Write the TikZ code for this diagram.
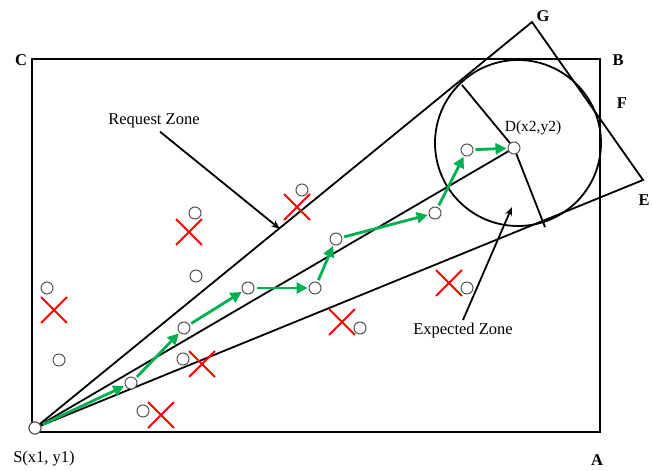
\documentclass[tikz,border=0pt]{standalone}
\usepackage{fontspec}
\setmainfont{Liberation Serif}
\usetikzlibrary{arrows.meta,shapes.misc}
\definecolor{verde}{RGB}{0,176,80}
\definecolor{gris}{RGB}{85,85,85}
\tikzset{
  >={Stealth[length=9pt,width=7pt]},
  linea/.style={line width=1.8pt},
  paso/.style={draw=verde, line width=2.8pt, shorten <=2pt, shorten >=1pt,
    -{Triangle[length=11pt,width=11pt]}},
  punto/.style={circle, draw=gris, fill=white, line width=1pt, minimum size=12pt, inner sep=0pt},
  cruz/.style={cross out, draw=red, line width=1.9pt, minimum size=24pt, inner sep=0pt},
  letra/.style={font=\bfseries\fontsize{16.5}{18}\selectfont},
  rotulo/.style={font=\fontsize{16.5}{18}\selectfont},
}

\begin{document}
\begin{tikzpicture}[x=1pt, y=-1pt]
  \useasboundingbox (0,0) rectangle (653,471);
  % area
  \draw[linea] (32,59) rectangle (600,432);
  \coordinate (G) at (532,22);
  \coordinate (E) at (643,180);
  \coordinate (r1) at (462,85);
  \coordinate (r2) at (545,227);
  \node[punto] (S) at (35,428) {};
  \node[punto] (D) at (514,148) {};
  \draw[linea] (S.center) -- (G) -- (E) -- (S.center);
  \draw[linea] (S.center) -- (D);
  \draw[linea] (518,143) circle (83);
  \draw[linea] (D) -- (r1);
  \draw[linea] (D) -- (r2);
  \node[punto] at (S) {};
  % path
  \node[punto] (n1) at (131,383) {};
  \node[punto] (n2) at (184,328) {};
  \node[punto] (n3) at (248,288) {};
  \node[punto] (n4) at (315,288) {};
  \node[punto] (n5) at (336,239) {};
  \node[punto] (n6) at (435,213) {};
  \node[punto] (n7) at (467,150) {};
  \draw[paso] (S) -- (n1);
  \draw[paso] (n1) -- (n2);
  \draw[paso] (n2) -- (n3);
  \draw[paso] (n3) -- (n4);
  \draw[paso] (n4) -- (n5);
  \draw[paso] (n5) -- (n6);
  \draw[paso] (n6) -- (n7);
  \draw[paso] (n7) -- (D);
  % other nodes
  \foreach \x/\y [count=\i] in {47/288, 59/360, 195/213, 196/276, 302/190,
      360/328, 467/288, 183/359, 143/411}
    \node[punto] (o\i) at (\x,\y) {};
  \foreach \x/\y [count=\i] in {54/310, 189/232, 297/207, 202/364, 161/415,
      342/322, 449/283}
    \node[cruz] (x\i) at (\x,\y) {};
  % labels
  \node[letra] (lc) at (21,60) {C};
  \node[letra] (lb) at (618,60) {B};
  \node[letra] (lf) at (622,103) {F};
  \node[letra] (le) at (644,200) {E};
  \node[letra] (lg) at (543,16) {G};
  \node[letra] (la) at (597,460) {A};
  \node[rotulo] (ls) at (44,459) {S(x1, y1)};
  \node[rotulo, font=\fontsize{15.5}{17}\selectfont] (ld) at (533,128) {D(x2,y2)};
  \node[rotulo] (rz) at (154,121) {Request Zone};
  \node[rotulo] (ez) at (463,331) {Expected Zone};
  \coordinate (rzp) at (280,229);
  \coordinate (ezp) at (512,207);
  \draw[linea, ->] ([xshift=6pt]rz.south) -- (rzp);
  \draw[linea, ->] (ez.north) -- (ezp);
\end{tikzpicture}
\end{document}
